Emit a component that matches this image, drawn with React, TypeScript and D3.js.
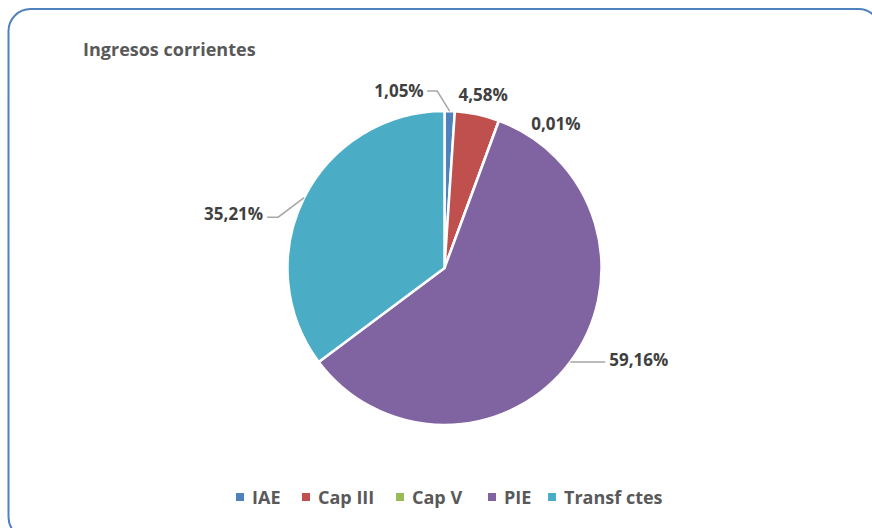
import React from "react";
import * as d3 from "d3";

const categories = ["IAE", "Cap III", "Cap V", "PIE", "Transf ctes"];
const values = [1.05, 4.58, 0.01, 59.16, 35.21];
const colors = ["#4F81BD", "#C0504D", "#9BBB59", "#8064A2", "#4BACC6"];
const title = "Ingresos corrientes";

// label placement relative to the slice's outer mid-point (dx, dy), elbow offsets and anchor
const labelCfg = [
  { elbow: [-12.5, -20], end: [-22.5, -20], text: [-26, -21], anchor: "end" },
  { elbow: null, end: null, text: [6, -20], anchor: "middle" },
  { elbow: null, end: null, text: [57, 3], anchor: "middle" },
  { elbow: [35, 0], end: [35, 0], text: [39, -3], anchor: "start" },
  { elbow: [-26, 19.5], end: [-37, 19.5], text: [-41, 15.5], anchor: "end" },
];

const W = 872;
const H = 528;
const cx = 444.5;
const cy = 268;
const R = 157;
const FONT = "'Open Sans', 'Noto Sans', sans-serif";

export default function App() {
  const pie = d3.pie<number>().sort(null).value((d) => d)(values);
  const arc = d3.arc<d3.PieArcDatum<number>>().innerRadius(0).outerRadius(R);
  const fmt = (v: number) => v.toFixed(2).replace(".", ",") + "%";

  const legendX = [236, 302, 396, 488, 548];

  return (
    <svg
      width={W}
      height={H}
      style={{ position: "absolute", left: 0, top: 0, background: "#fff" }}
      fontFamily={FONT}
    >
      <rect x={8.5} y={9} width={872} height={530} rx={22} ry={22} fill="#fff" stroke="#4F81BD" strokeWidth={2} />
      <text x={83} y={56} fontSize={18} fontWeight="bold" fill="#595959">
        {title}
      </text>
      <g transform={`translate(${cx},${cy})`}>
        {pie.map((p, i) => (
          <path key={i} d={arc(p) || ""} fill={colors[i]} stroke="#fff" strokeWidth={2.5} strokeLinejoin="round" />
        ))}
        {pie.map((p, i) => {
          const mid = (p.startAngle + p.endAngle) / 2;
          const ox = R * Math.sin(mid);
          const oy = -R * Math.cos(mid);
          const c = labelCfg[i];
          return (
            <g key={"l" + i}>
              {c.elbow && c.end && (
                <polyline
                  points={`${ox},${oy} ${ox + c.elbow[0]},${oy + c.elbow[1]} ${ox + c.end[0]},${oy + c.end[1]}`}
                  fill="none"
                  stroke="#A6A6A6"
                  strokeWidth={1.5}
                />
              )}
              <text
                x={ox + c.text[0]}
                y={oy + c.text[1]}
                textAnchor={c.anchor as any}
                dominantBaseline="central"
                fontSize={17}
                fontWeight="bold"
                fill="#404040"
              >
                {fmt(values[i])}
              </text>
            </g>
          );
        })}
      </g>
      <g>
        {categories.map((c, i) => (
          <g key={c}>
            <rect x={legendX[i]} y={493} width={8} height={8} fill={colors[i]} />
            <text x={legendX[i] + 16} y={497} dominantBaseline="central" fontSize={18} fontWeight="bold" fill="#595959">
              {c}
            </text>
          </g>
        ))}
      </g>
    </svg>
  );
}
